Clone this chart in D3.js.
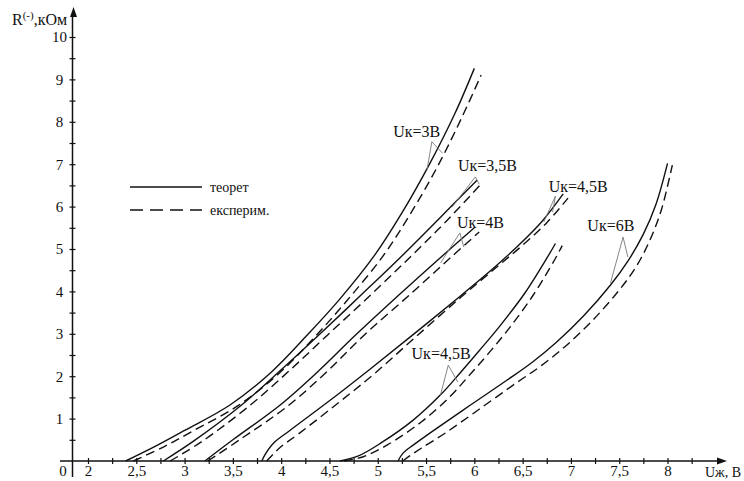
<!DOCTYPE html>
<html>
<head>
<meta charset="utf-8">
<script src="https://cdn.jsdelivr.net/npm/d3@7"></script>
<style>
  body { margin: 0; background: #fff; }
  svg { display: block; }
</style>
</head>
<body>
<svg id="chart" width="744" height="481"></svg>
<script>
// Curves: [Uж, R]
const uk3Theor = [[2.39,0],[2.7,0.35],[3.0,0.72],[3.47,1.32],[3.9,2.1],[4.27,2.97],[4.6,3.8],[4.97,4.86],[5.25,5.85],[5.54,7.02],[5.8,8.2],[6.0,9.26]];
const uk3Exp = [[2.47,0],[2.78,0.33],[3.08,0.7],[3.55,1.3],[3.98,2.07],[4.35,2.93],[4.68,3.78],[5.05,4.82],[5.33,5.8],[5.62,6.95],[5.87,8.1],[6.07,9.1]];

const uk35Theor = [[2.78,0],[3.1,0.48],[3.59,1.32],[4.0,2.15],[4.39,2.97],[4.83,3.92],[5.26,4.86],[5.65,5.75],[6.03,6.63]];
const uk35Exp = [[2.85,0],[3.18,0.46],[3.67,1.3],[4.08,2.12],[4.47,2.95],[4.91,3.88],[5.34,4.82],[5.72,5.68],[6.08,6.56]];

const uk4Theor = [[3.21,0],[3.5,0.5],[3.99,1.32],[4.4,2.15],[4.77,2.97],[5.25,3.98],[5.68,4.86],[6.0,5.5]];
const uk4Exp = [[3.24,0],[3.57,0.5],[4.07,1.3],[4.48,2.12],[4.85,2.95],[5.35,3.96],[5.78,4.85],[6.05,5.4]];

const uk45aTheor = [[3.8,0],[3.83,0.14],[3.92,0.42],[4.09,0.72],[4.5,1.42],[4.9,2.13],[5.35,2.95],[5.85,3.88],[6.2,4.55],[6.45,5.07],[6.7,5.65],[6.92,6.3]];
const uk45aExp = [[3.85,0],[3.9,0.12],[4.0,0.34],[4.18,0.64],[4.58,1.35],[4.96,2.05],[5.38,2.9],[5.86,3.86],[6.22,4.55],[6.49,5.07],[6.75,5.62],[6.97,6.2]];

const uk45bTheor = [[4.61,0],[4.8,0.12],[5.03,0.42],[5.37,0.97],[5.65,1.56],[5.85,2.07],[6.05,2.6],[6.27,3.2],[6.52,3.95],[6.76,4.82],[6.84,5.13]];
const uk45bExp = [[4.65,0],[4.85,0.1],[5.1,0.38],[5.45,0.92],[5.74,1.5],[5.94,2.0],[6.14,2.52],[6.35,3.1],[6.6,3.88],[6.83,4.74],[6.91,5.08]];

const uk6Theor = [[5.21,0],[5.26,0.18],[5.37,0.38],[5.61,0.77],[5.96,1.32],[6.34,1.91],[6.6,2.33],[6.85,2.8],[7.13,3.42],[7.41,4.15],[7.6,4.75],[7.75,5.35],[7.88,6.05],[8.0,7.02]];
const uk6Exp = [[5.26,0],[5.33,0.12],[5.45,0.3],[5.7,0.66],[6.05,1.22],[6.44,1.85],[6.7,2.26],[6.95,2.72],[7.23,3.33],[7.5,4.03],[7.68,4.6],[7.82,5.22],[7.94,5.95],[8.05,6.98]];

const theorCurves = [uk3Theor, uk35Theor, uk4Theor, uk45aTheor, uk45bTheor, uk6Theor];
const expCurves = [uk3Exp, uk35Exp, uk4Exp, uk45aExp, uk45bExp, uk6Exp];

// Curve labels, with the point each pointer starts from and the two points it touches
const noteLabels = ["Uк=3В", "Uк=3,5В", "Uк=4В", "Uк=4,5В", "Uк=6В", "Uк=4,5В"];
const noteAt = [[5.16,7.64],[5.83,6.84],[5.82,5.5],[6.77,6.34],[7.17,5.42],[5.35,2.4]];
const notePivot = [[5.56,7.53],[6.01,6.70],[5.85,5.38],[6.84,6.25],[7.54,5.28],[5.73,2.26]];
const noteTargets = [
  [[5.51,6.86],[5.67,7.26]],
  [[5.77,5.99],[6.05,6.53]],
  [[5.65,4.67],[5.89,5.05]],
  [[6.72,5.64],[6.81,5.87]],
  [[7.41,4.2],[7.59,4.81]],
  [[5.65,1.56],[5.83,1.86]]
];

// Axis ticks
const xTicks = [2, 2.5, 3, 3.5, 4, 4.5, 5, 5.5, 6, 6.5, 7, 7.5, 8];
const xTickLabels = ["2", "2,5", "3", "3,5", "4", "4,5", "5", "5,5", "6", "6,5", "7", "7,5", "8"];
const yTicks = [1, 2, 3, 4, 5, 6, 7, 8, 9, 10];
const legendNames = ["теорет", "експерим."];

const serif = "Liberation Serif";
const ink = "#111";

const svg = d3.select("#chart");
svg.append("rect").attr("width", 744).attr("height", 481).attr("fill", "#fff");

const x = d3.scaleLinear().domain([2, 8]).range([88, 667.5]);
const y = d3.scaleLinear().domain([0, 10]).range([461, 37]);
const x0 = 72.5; // y axis position (axis is broken between 0 and 2)

// x axis
const xMinor = d3.range(2, 8.3, 0.25);
const xAxis = svg.append("g")
  .attr("transform", `translate(0,${y(0)})`)
  .call(d3.axisBottom(x)
    .tickValues(xMinor)
    .tickSize(3)
    .tickFormat(d => {
      const i = xTicks.indexOf(d);
      return i >= 0 ? xTickLabels[i] : "";
    }));
xAxis.select(".domain").remove();
xAxis.selectAll(".tick line").attr("y1", -3).attr("y2", 3).attr("stroke", ink).attr("stroke-width", 1.2);
xAxis.selectAll(".tick text").attr("y", 4).attr("dy", "0.71em")
  .attr("font-family", serif).attr("font-size", 15).attr("fill", ink);

svg.append("line")
  .attr("x1", 60).attr("x2", 720)
  .attr("y1", y(0)).attr("y2", y(0))
  .attr("stroke", ink).attr("stroke-width", 1.5);
svg.append("path")
  .attr("d", `M727,${y(0)} L717,${y(0) - 3.5} L717,${y(0) + 3.5} Z`)
  .attr("fill", ink);

// y axis
const yMinor = d3.range(0.5, 10.01, 0.5);
const yAxis = svg.append("g")
  .attr("transform", `translate(${x0},0)`)
  .call(d3.axisLeft(y)
    .tickValues(yMinor)
    .tickSize(3)
    .tickFormat(d => yTicks.includes(d) ? String(d) : ""));
yAxis.select(".domain").remove();
yAxis.selectAll(".tick line").attr("x1", -3).attr("x2", 3).attr("stroke", ink).attr("stroke-width", 1.2);
yAxis.selectAll(".tick text").attr("x", -13).attr("text-anchor", "middle")
  .attr("font-family", serif).attr("font-size", 15).attr("fill", ink);

svg.append("line")
  .attr("x1", x0).attr("x2", x0)
  .attr("y1", 477).attr("y2", 15)
  .attr("stroke", ink).attr("stroke-width", 1.5);
svg.append("path")
  .attr("d", `M${x0 + 1},7 L${x0 - 2.5},17 L${x0 + 4.5},17 Z`)
  .attr("fill", ink);

svg.append("text").attr("x", 63).attr("y", 475.5)
  .attr("font-family", serif).attr("font-size", 15).attr("fill", ink)
  .attr("text-anchor", "middle").text("0");

// axis titles
const yTitle = svg.append("text").attr("x", 12).attr("y", 25)
  .attr("font-family", serif).attr("font-size", 16).attr("fill", ink);
yTitle.append("tspan").text("R");
yTitle.append("tspan").attr("dy", -6).attr("font-size", 11).text("(-)");
yTitle.append("tspan").attr("dy", 6).text(",кОм");

svg.append("text").attr("x", 705).attr("y", 476.5)
  .attr("font-family", serif).attr("font-size", 14).attr("fill", ink)
  .text("Uж, В");

// curves
const line = d3.line()
  .x(d => x(d[0]))
  .y(d => y(d[1]))
  .curve(d3.curveCatmullRom.alpha(0.5));

svg.append("g").selectAll("path")
  .data(theorCurves)
  .join("path")
  .attr("d", line)
  .attr("fill", "none")
  .attr("stroke", ink)
  .attr("stroke-width", 1.4);

svg.append("g").selectAll("path")
  .data(expCurves)
  .join("path")
  .attr("d", line)
  .attr("fill", "none")
  .attr("stroke", ink)
  .attr("stroke-width", 1.4)
  .attr("stroke-dasharray", "9,5");

// pointers and labels
const notes = svg.append("g");
noteLabels.forEach((label, i) => {
  noteTargets[i].forEach(t => {
    notes.append("line")
      .attr("x1", x(notePivot[i][0])).attr("y1", y(notePivot[i][1]))
      .attr("x2", x(t[0])).attr("y2", y(t[1]))
      .attr("stroke", "#777").attr("stroke-width", 0.9);
  });
  notes.append("text")
    .attr("x", x(noteAt[i][0]))
    .attr("y", y(noteAt[i][1]))
    .attr("font-family", serif).attr("font-size", 16)
    .attr("fill", ink)
    .text(label);
});

// legend
const legend = svg.append("g");
legendNames.forEach((name, i) => {
  const ly = 187 + i * 23;
  legend.append("line")
    .attr("x1", 130).attr("x2", 202)
    .attr("y1", ly).attr("y2", ly)
    .attr("stroke", ink).attr("stroke-width", 1.4)
    .attr("stroke-dasharray", i === 0 ? null : "13,7");
  legend.append("text")
    .attr("x", 210).attr("y", ly + 4.5)
    .attr("font-family", serif).attr("font-size", 14)
    .attr("fill", ink)
    .text(name);
});
</script>
</body>
</html>
